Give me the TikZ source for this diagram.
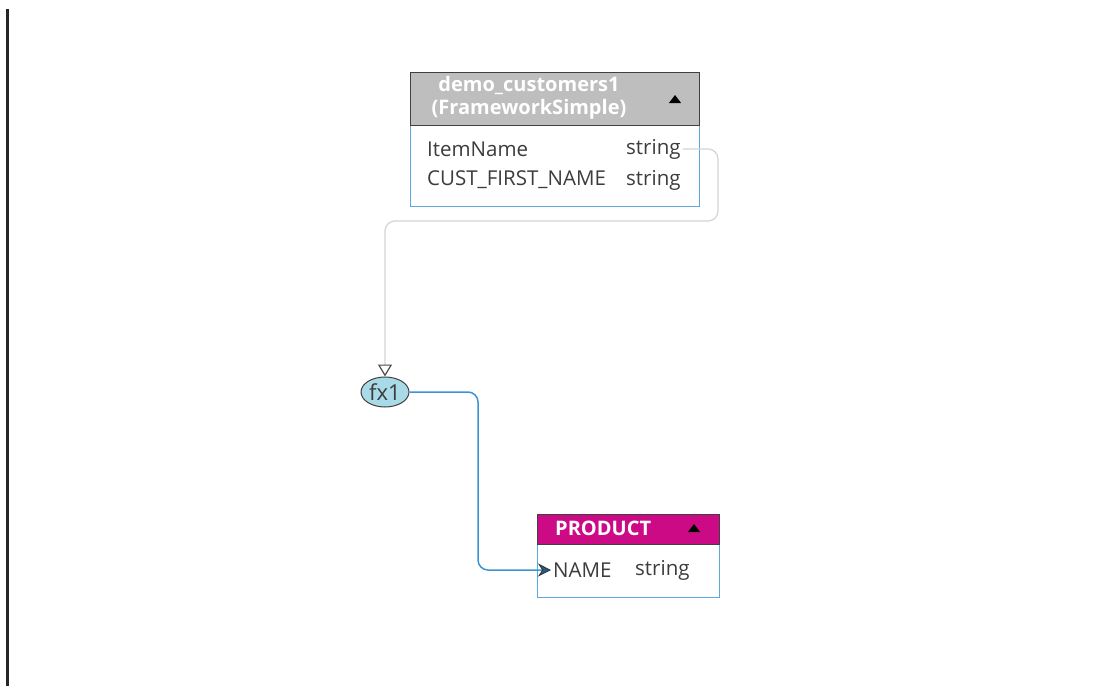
\documentclass[tikz,border=0pt]{standalone}
\usepackage{fontspec}
\setmainfont{Open Sans}
\usetikzlibrary{arrows.meta,positioning,shapes.geometric,calc}
\definecolor{hdrGray}{HTML}{BEBEBE}
\definecolor{hdrPink}{HTML}{CC0A85}
\definecolor{tblBlue}{HTML}{5AA8DE}
\definecolor{wireGray}{HTML}{D4D4D4}
\definecolor{fxFill}{HTML}{A8DAE8}
\definecolor{linkBlue}{HTML}{3D94D4}
\definecolor{tipBlue}{HTML}{1E5C85}
\definecolor{txtGray}{HTML}{3C3C3C}
\tikzset{
  font=\fontsize{20.5}{24}\selectfont,
  tbody/.style ={draw=tblBlue, line width=1.3pt, fill=white, anchor=north west, inner sep=0pt},
  thead/.style ={draw=black!75, line width=1.3pt, anchor=north west, inner sep=0pt},
  htext/.style ={text=white, font=\fontsize{20}{23}\selectfont\bfseries, align=center, inner sep=0pt},
  cell/.style  ={text=txtGray, anchor=west, inner sep=2pt},
  tri/.style   ={isosceles triangle, shape border rotate=90, fill=black, inner sep=0pt,
                 minimum width=11pt, minimum height=8pt, isosceles triangle apex angle=75},
  fx/.style    ={ellipse, draw=black!75, line width=1pt, fill=fxFill, text=txtGray,
                 font=\fontsize{22}{24}\selectfont,
                 minimum width=48pt, minimum height=30pt, inner sep=0pt},
  wire/.style  ={draw=wireGray, line width=1.2pt, rounded corners=10pt,
                 -{Triangle[open, length=12pt, width=14pt, color=black!70, line width=1.2pt]}},
  link/.style  ={draw=linkBlue, line width=1.5pt, rounded corners=10pt,
                 -{Stealth[length=13pt, width=13pt, fill=tipBlue, color=black!80, line width=0.8pt]}},
}
\begin{document}
\begin{tikzpicture}[x=1pt, y=-1pt]
  \useasboundingbox (0,0) rectangle (1099,686);
  \fill[white] (0,0) rectangle (1099,686);
  % left margin rule
  \draw[line width=3pt, black!85] (7,9) -- (7,686);

  % source table
  \node[tbody, minimum width=289pt, minimum height=134pt] (src) at (410,72) {};
  \node[thead, fill=hdrGray, minimum width=289pt, minimum height=53pt] (srchead) at (410,72) {};
  \node[htext] (srctitle) at (529,98) {demo\_customers1\\(FrameworkSimple)};
  \node[tri] (srctri) at (675,100) {};
  \node[cell] (itemname) at (425,149) {ItemName};
  \node[cell] (itemtype) at (624,149) {string};
  \node[cell] (custname) at (425,180) {CUST\_FIRST\_NAME};
  \node[cell] (custtype) at (624,180) {string};

  % expression
  \node[fx] (fx1) at (385,392) {fx1};

  % target table
  \node[tbody, minimum width=182pt, minimum height=83pt] (dst) at (537,514) {};
  \node[thead, fill=hdrPink, minimum width=182pt, minimum height=30pt] (dsthead) at (537,514) {};
  \node[htext, anchor=west] (dsttitle) at (555,528) {PRODUCT};
  \node[tri] (dsttri) at (694,529) {};
  \node[cell] (prodname) at (551,570) {NAME};
  \node[cell] (prodtype) at (633,570) {string};

  % connectors
  \coordinate (wturn) at (718,221);
  \coordinate (ljog) at (478,480);
  \draw[wire] (itemtype.east) -| (wturn) -| (fx1.north);
  \draw[link] (fx1.east) -| (ljog) |- (prodname.west);
\end{tikzpicture}
\end{document}
